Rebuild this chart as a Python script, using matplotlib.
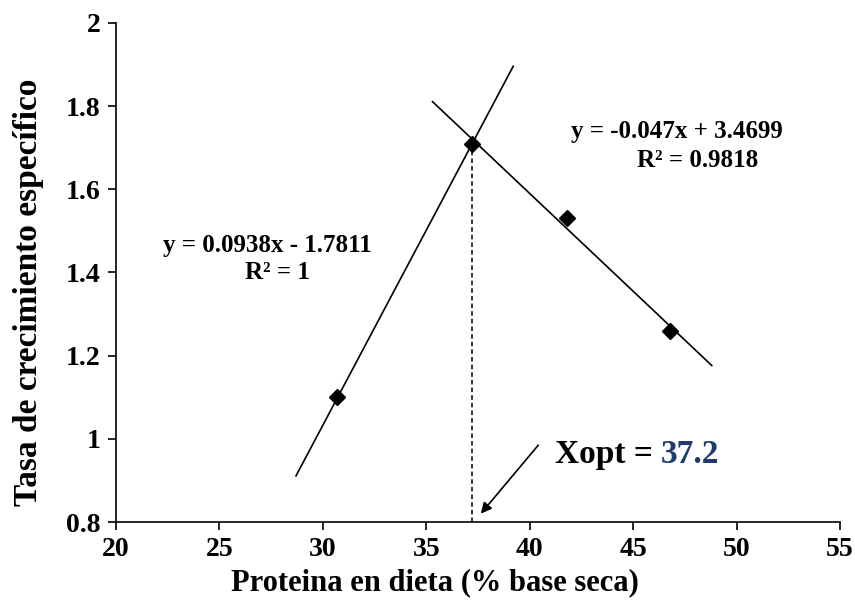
import matplotlib.pyplot as plt
import numpy as np
from matplotlib.ticker import FuncFormatter

plt.rcParams['font.family'] = ['Liberation Serif', 'DejaVu Serif']
plt.rcParams['font.weight'] = 'bold'

# datos
proteina = [30.7, 37.2, 41.8, 46.8]
tasa = [1.10, 1.71, 1.53, 1.26]

# rectas de ajuste (pendiente, intercepto, rango x)
m1, b1 = 0.0938, -1.7811
x1 = [28.7, 39.2]
m2, b2 = -0.047, 3.4699
x2 = [35.3, 48.8]
xopt = 37.2

fig = plt.figure(figsize=(8.55, 6.03), dpi=100)
ax = fig.add_axes([0.1357, 0.1343, 0.8468, 0.8276])

ax.plot(x1, [m1 * x + b1 for x in x1], color='black', lw=1.2)
ax.plot(x2, [m2 * x + b2 for x in x2], color='black', lw=1.2)
ax.plot(proteina, tasa, linestyle='none', marker='D', color='black', markersize=8)

# linea vertical en el optimo
ax.plot([xopt, xopt], [0.8, m1 * xopt + b1], color='black', lw=1.1, linestyle=(0, (3, 2)))

ax.text(27.3, 1.466, 'y = 0.0938x - 1.7811', ha='center', va='center', fontsize=18, fontweight='bold')
ax.text(27.8, 1.401, 'R² = 1', ha='center', va='center', fontsize=18, fontweight='bold')
ax.text(47.1, 1.738, 'y = -0.047x + 3.4699', ha='center', va='center', fontsize=18, fontweight='bold')
ax.text(48.1, 1.669, 'R² = 0.9818', ha='center', va='center', fontsize=18, fontweight='bold')

ax.annotate('', xy=(37.55, 0.815), xytext=(40.5, 0.99),
            arrowprops=dict(arrowstyle='-|>', color='black', lw=1.2, mutation_scale=16))
t = ax.text(41.2, 0.962, 'Xopt = ', ha='left', va='center', fontsize=24, fontweight='bold')
ax.annotate('37.2', xycoords=t, xy=(1, 0.5), va='center', ha='left',
            fontsize=24, fontweight='bold', color='#1f3a6e')

ax.set_xlim(20, 55)
ax.set_ylim(0.8, 2.0)
ax.set_xticks(np.arange(20, 56, 5))
ax.set_yticks([0.8, 1.0, 1.2, 1.4, 1.6, 1.8, 2.0])
ax.yaxis.set_major_formatter(FuncFormatter(lambda v, p: f'{v:g}'))
ax.tick_params(direction='out', length=6, width=1.2, labelsize=20, pad=5)
for s in ['top', 'right']:
    ax.spines[s].set_visible(False)
for s in ['left', 'bottom']:
    ax.spines[s].set_linewidth(1.2)

ax.set_xlabel('Proteina en dieta (% base seca)', fontsize=22, fontweight='bold', labelpad=4)
ax.set_ylabel('Tasa de crecimiento específico', fontsize=24, fontweight='bold', labelpad=16)
ax.xaxis.label.set_x(0.44)
ax.yaxis.label.set_y(0.461)

fig.savefig('out.png', dpi=100)
